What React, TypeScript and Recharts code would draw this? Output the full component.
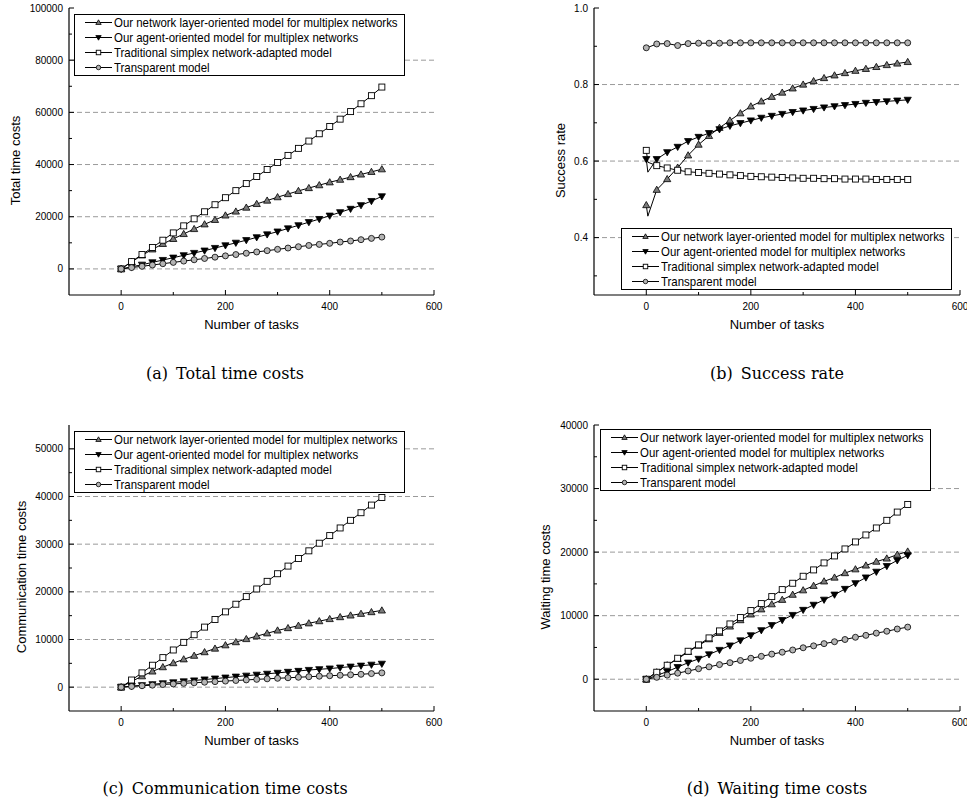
import { LineChart, Line, XAxis, YAxis, ReferenceLine } from 'recharts';

// x positions (number of tasks)
const tasks = [0, 20, 40, 60, 80, 100, 120, 140, 160, 180, 200, 220, 240, 260, 280, 300, 320, 340, 360, 380, 400, 420, 440, 460, 480, 500];
// success rate run also logs a sample just after start (no marker drawn there)
const successTasks = [0, 3, 20, 40, 60, 80, 100, 120, 140, 160, 180, 200, 220, 240, 260, 280, 300, 320, 340, 360, 380, 400, 420, 440, 460, 480, 500];
const unmarkedTasks = [3];

// (a) total time costs
const totalLayer = [0, 2700, 5200, 7500, 9600, 11500, 13400, 15300, 17100, 18800, 20500, 22000, 23500, 24900, 26200, 27500, 28700, 29900, 31000, 32100, 33200, 34200, 35200, 36200, 37200, 38200];
const totalAgent = [0, 800, 1600, 2500, 3400, 4300, 5200, 6100, 7000, 8000, 9000, 10000, 11000, 12100, 13200, 14300, 15500, 16700, 17900, 19100, 20400, 21700, 23000, 24400, 26000, 27800];
const totalSimplex = [0, 2800, 5500, 8200, 11000, 13800, 16500, 19200, 21900, 24600, 27300, 30000, 32700, 35400, 38100, 40800, 43500, 46200, 49000, 51800, 54600, 57400, 60300, 63300, 66400, 69700];
const totalTransparent = [0, 500, 1000, 1500, 2000, 2500, 3000, 3500, 4000, 4500, 5000, 5500, 6000, 6500, 7000, 7500, 8000, 8500, 9000, 9400, 9800, 10300, 10700, 11200, 11700, 12200];

// (b) success rate
const successLayer = [0.485, 0.456, 0.525, 0.553, 0.583, 0.615, 0.643, 0.666, 0.687, 0.706, 0.725, 0.743, 0.756, 0.768, 0.779, 0.790, 0.800, 0.809, 0.817, 0.824, 0.830, 0.836, 0.841, 0.846, 0.851, 0.855, 0.859];
const successAgent = [0.605, 0.571, 0.605, 0.623, 0.637, 0.652, 0.663, 0.673, 0.683, 0.692, 0.699, 0.706, 0.713, 0.718, 0.723, 0.728, 0.732, 0.736, 0.740, 0.743, 0.746, 0.749, 0.752, 0.754, 0.756, 0.758, 0.760];
const successSimplex = [0.628, 0.597, 0.588, 0.582, 0.576, 0.572, 0.570, 0.568, 0.566, 0.564, 0.562, 0.560, 0.559, 0.558, 0.557, 0.556, 0.555, 0.555, 0.554, 0.554, 0.553, 0.553, 0.553, 0.552, 0.552, 0.552, 0.552];
const successTransparent = [0.896, 0.897, 0.906, 0.907, 0.902, 0.907, 0.908, 0.908, 0.908, 0.909, 0.909, 0.909, 0.909, 0.909, 0.909, 0.909, 0.909, 0.909, 0.909, 0.909, 0.909, 0.909, 0.909, 0.909, 0.909, 0.909, 0.909];

// (c) communication time costs
const commLayer = [0, 1200, 2300, 3300, 4200, 5050, 5850, 6600, 7350, 8100, 8800, 9450, 10100, 10700, 11300, 11900, 12400, 12900, 13400, 13850, 14300, 14700, 15050, 15400, 15750, 16100];
const commAgent = [0, 200, 400, 600, 800, 1000, 1200, 1400, 1600, 1800, 2000, 2200, 2400, 2600, 2800, 3000, 3200, 3400, 3600, 3750, 3900, 4100, 4300, 4500, 4700, 4900];
const commSimplex = [0, 1500, 3000, 4600, 6200, 7800, 9400, 11000, 12600, 14200, 15800, 17400, 19000, 20600, 22200, 23800, 25400, 27000, 28600, 30200, 31800, 33400, 35000, 36600, 38200, 39800];
const commTransparent = [0, 150, 300, 420, 550, 680, 800, 920, 1040, 1160, 1280, 1400, 1520, 1640, 1750, 1860, 1970, 2080, 2190, 2300, 2400, 2500, 2600, 2700, 2850, 3000];

// (d) waiting time costs
const waitLayer = [0, 1100, 2200, 3200, 4300, 5300, 6300, 7300, 8300, 9300, 10200, 11000, 11800, 12500, 13300, 14000, 14700, 15400, 16000, 16700, 17300, 17900, 18500, 19000, 19600, 20100];
const waitAgent = [0, 600, 1200, 1900, 2600, 3200, 3900, 4600, 5300, 6100, 6900, 7700, 8500, 9300, 10100, 10900, 11700, 12500, 13300, 14200, 15100, 16000, 16900, 17800, 18700, 19500];
const waitSimplex = [0, 1100, 2200, 3300, 4400, 5400, 6500, 7600, 8700, 9700, 10800, 11900, 13000, 14100, 15100, 16200, 17200, 18300, 19400, 20500, 21600, 22700, 23800, 25000, 26300, 27500];
const waitTransparent = [0, 300, 650, 950, 1300, 1650, 1950, 2300, 2600, 2950, 3300, 3600, 3950, 4250, 4600, 4950, 5250, 5600, 5900, 6250, 6600, 6900, 7250, 7550, 7900, 8200];

const xTicks = [0, 100, 200, 300, 400, 500, 600];
const xMajor = [0, 200, 400, 600];

type Shape = 'up' | 'down' | 'square' | 'circle';

const SERIES: { key: string; name: string; shape: Shape }[] = [
  { key: 'layer', name: 'Our network layer-oriented model for multiplex networks', shape: 'up' },
  { key: 'agent', name: 'Our agent-oriented model for multiplex networks', shape: 'down' },
  { key: 'simplex', name: 'Traditional simplex network-adapted model', shape: 'square' },
  { key: 'transparent', name: 'Transparent model', shape: 'circle' },
];

const SANS = "'Liberation Sans', Arial, sans-serif";

function Marker({ shape, cx, cy, s = 1 }: { shape: Shape; cx: number; cy: number; s?: number }) {
  if (shape === 'up') {
    const pts = `${cx},${cy - 3.6 * s} ${cx + 3.6 * s},${cy + 2.6 * s} ${cx - 3.6 * s},${cy + 2.6 * s}`;
    return <polygon points={pts} fill="#7a7a7a" stroke="#000" strokeWidth={0.8} />;
  }
  if (shape === 'down') {
    const pts = `${cx - 3.6 * s},${cy - 2.6 * s} ${cx + 3.6 * s},${cy - 2.6 * s} ${cx},${cy + 3.6 * s}`;
    return <polygon points={pts} fill="#000" stroke="#000" strokeWidth={0.8} />;
  }
  if (shape === 'square') {
    return <rect x={cx - 3 * s} y={cy - 3 * s} width={6 * s} height={6 * s} fill="#fff" stroke="#000" strokeWidth={0.9} />;
  }
  return <circle cx={cx} cy={cy} r={3 * s} fill="#b4b4b4" stroke="#000" strokeWidth={0.8} />;
}

const isIn = (v: number, list: number[]) => list.some((m) => Math.abs(m - v) < 1e-9);

function LegendBox({ left, top }: { left: number; top: number }) {
  return (
    <div
      style={{
        position: 'absolute', left, top, width: 331, height: 62, boxSizing: 'border-box',
        border: '1px solid #000', background: '#fff', overflow: 'hidden',
        fontFamily: SANS, fontSize: 13, color: '#000',
      }}
    >
      {SERIES.map((s) => (
        <div key={s.key} style={{ display: 'flex', alignItems: 'center', height: 15, whiteSpace: 'nowrap' }}>
          <svg width={39} height={15} style={{ flex: 'none' }}>
            <line x1={10} x2={37} y1={7.5} y2={7.5} stroke="#000" strokeWidth={1} />
            <Marker shape={s.shape} cx={23.5} cy={7.5} s={0.75} />
          </svg>
          {/* reference legend uses a narrow sans face */}
          <span style={{ display: 'inline-block', lineHeight: '15px', transform: 'scaleX(0.88)', transformOrigin: 'left center' }}>
            {s.name}
          </span>
        </div>
      ))}
    </div>
  );
}

interface PanelProps {
  left: number;
  top: number;
  width: number;
  height: number;
  marginTop: number;
  marginRight: number;
  yAxisWidth: number;
  xAxisHeight: number;
  x: number[];
  values: number[][];
  yDomain: [number, number];
  yTicks: number[];
  yMajor: number[];
  grid: number[];
  digits: number;
  yLabel: string;
  yLabelX: number;
  legend: { left: number; top: number };
  caption: string;
  captionX: number;
  captionY: number;
}

function Panel(p: PanelProps) {
  const data = p.x.map((t, i) => ({
    task: t,
    layer: p.values[0][i],
    agent: p.values[1][i],
    simplex: p.values[2][i],
    transparent: p.values[3][i],
  }));
  const plotLeft = p.yAxisWidth;
  const plotRight = p.width - p.marginRight;
  const plotTop = p.marginTop;
  const plotBottom = p.height - p.xAxisHeight;

  const bottomTick = (t: any) => {
    const v = t.payload.value;
    const major = isIn(v, xMajor);
    return (
      <g>
        <line x1={t.x} x2={t.x} y1={t.y} y2={t.y - (major ? 5 : 3)} stroke="#000" />
        {major && (
          <text x={t.x} y={t.y + 15} textAnchor="middle" fontSize={10} fill="#000">{v}</text>
        )}
      </g>
    );
  };
  const topTick = (t: any) => {
    const major = isIn(t.payload.value, xMajor);
    return <line x1={t.x} x2={t.x} y1={t.y} y2={t.y + (major ? 5 : 3)} stroke="#000" />;
  };
  const leftTick = (t: any) => {
    const v = t.payload.value;
    const major = isIn(v, p.yMajor);
    return (
      <g>
        <line x1={t.x} x2={t.x + (major ? 5 : 3)} y1={t.y} y2={t.y} stroke="#000" />
        {major && (
          <text x={t.x - 6} y={t.y} dy="0.35em" textAnchor="end" fontSize={10} fill="#000">
            {p.digits ? v.toFixed(p.digits) : String(v)}
          </text>
        )}
      </g>
    );
  };
  const rightTick = (t: any) => {
    const major = isIn(t.payload.value, p.yMajor);
    return <line x1={t.x} x2={t.x - (major ? 5 : 3)} y1={t.y} y2={t.y} stroke="#000" />;
  };

  const renderDot = (shape: Shape) => (d: any) => {
    if (d.cx == null || isIn(d.payload.task, unmarkedTasks)) return <g key={d.index} />;
    return <Marker key={d.index} shape={shape} cx={d.cx} cy={d.cy} />;
  };

  return (
    <>
      <div style={{ position: 'absolute', left: p.left, top: p.top }}>
        <LineChart
          width={p.width}
          height={p.height}
          data={data}
          margin={{ top: p.marginTop, right: p.marginRight, left: 0, bottom: 0 }}
        >
          <XAxis
            dataKey="task"
            type="number"
            domain={[-100, 600]}
            ticks={xTicks}
            interval={0}
            allowDataOverflow
            height={p.xAxisHeight}
            tickSize={0}
            tickMargin={0}
            tickLine={false}
            axisLine={{ stroke: '#000', strokeWidth: 1.2 }}
            tick={bottomTick}
            label={() => (
              <text x={(plotLeft + plotRight) / 2} y={plotBottom + 34} textAnchor="middle" fontSize={13} fill="#000">
                Number of tasks
              </text>
            )}
          />
          <XAxis
            xAxisId="top"
            orientation="top"
            type="number"
            domain={[-100, 600]}
            ticks={xTicks}
            interval={0}
            allowDataOverflow
            height={0}
            tickSize={0}
            tickMargin={0}
            tickLine={false}
            axisLine={{ stroke: '#000', strokeWidth: 1.2 }}
            tick={topTick}
          />
          <YAxis
            type="number"
            domain={p.yDomain}
            ticks={p.yTicks}
            interval={0}
            allowDataOverflow
            width={p.yAxisWidth}
            tickSize={0}
            tickMargin={0}
            tickLine={false}
            axisLine={{ stroke: '#000', strokeWidth: 1.2 }}
            tick={leftTick}
            label={() => (
              <text
                transform={`translate(${p.yLabelX},${(plotTop + plotBottom) / 2 + 9}) rotate(-90)`}
                textAnchor="middle"
                dy="0.35em"
                fontSize={13}
                fill="#000"
              >
                {p.yLabel}
              </text>
            )}
          />
          <YAxis
            yAxisId="right"
            orientation="right"
            type="number"
            domain={p.yDomain}
            ticks={p.yTicks}
            interval={0}
            allowDataOverflow
            width={0}
            tickSize={0}
            tickMargin={0}
            tickLine={false}
            axisLine={{ stroke: '#000', strokeWidth: 1.2 }}
            tick={rightTick}
          />
          {p.grid.map((g) => (
            <ReferenceLine key={g} y={g} stroke="#9a9a9a" strokeDasharray="5 3" />
          ))}
          {SERIES.map((s) => (
            <Line
              key={s.key}
              type="linear"
              dataKey={s.key}
              stroke="#000"
              strokeWidth={1}
              dot={renderDot(s.shape)}
              activeDot={false}
              isAnimationActive={false}
            />
          ))}
        </LineChart>
      </div>
      <LegendBox left={p.legend.left} top={p.legend.top} />
      <div
        style={{
          position: 'absolute', left: p.captionX - 200, top: p.captionY - 10, width: 400,
          textAlign: 'center', fontFamily: "'DejaVu Serif', serif", fontSize: 16, lineHeight: '20px', color: '#000',
        }}
      >
        {p.caption}
      </div>
    </>
  );
}

export default function App() {
  return (
    <div style={{ position: 'absolute', left: 0, top: 0, width: 967, height: 804, background: '#fff', fontFamily: SANS, overflow: 'hidden' }}>
      <Panel
        left={0} top={0} width={450} height={345} marginTop={8} marginRight={16} yAxisWidth={69} xAxisHeight={50}
        x={tasks}
        values={[totalLayer, totalAgent, totalSimplex, totalTransparent]}
        yDomain={[-10000, 100000]}
        yTicks={[0, 10000, 20000, 30000, 40000, 50000, 60000, 70000, 80000, 90000, 100000]}
        yMajor={[0, 20000, 40000, 60000, 80000, 100000]}
        grid={[0, 20000, 40000, 60000, 80000]}
        digits={0}
        yLabel="Total time costs" yLabelX={15}
        legend={{ left: 74, top: 14 }}
        caption={'(a)\u2002Total time costs'} captionX={225} captionY={374}
      />
      <Panel
        left={484} top={0} width={483} height={345} marginTop={8} marginRight={7} yAxisWidth={110} xAxisHeight={50}
        x={successTasks}
        values={[successLayer, successAgent, successSimplex, successTransparent]}
        yDomain={[0.25, 1.0]}
        yTicks={[0.3, 0.4, 0.5, 0.6, 0.7, 0.8, 0.9, 1.0]}
        yMajor={[0.4, 0.6, 0.8, 1.0]}
        grid={[0.4, 0.6, 0.8]}
        digits={1}
        yLabel="Success rate" yLabelX={76}
        legend={{ left: 621, top: 228 }}
        caption={'(b)\u2002Success rate'} captionX={777} captionY={374}
      />
      <Panel
        left={0} top={400} width={450} height={360} marginTop={25} marginRight={16} yAxisWidth={69} xAxisHeight={49}
        x={tasks}
        values={[commLayer, commAgent, commSimplex, commTransparent]}
        yDomain={[-5000, 55000]}
        yTicks={[0, 5000, 10000, 15000, 20000, 25000, 30000, 35000, 40000, 45000, 50000]}
        yMajor={[0, 10000, 20000, 30000, 40000, 50000]}
        grid={[0, 10000, 20000, 30000, 40000, 50000]}
        digits={0}
        yLabel="Communication time costs" yLabelX={21}
        legend={{ left: 74, top: 431 }}
        caption={'(c)\u2002Communication time costs'} captionX={225} captionY={789}
      />
      <Panel
        left={484} top={400} width={483} height={360} marginTop={25} marginRight={7} yAxisWidth={110} xAxisHeight={49}
        x={tasks}
        values={[waitLayer, waitAgent, waitSimplex, waitTransparent]}
        yDomain={[-5000, 40000]}
        yTicks={[0, 5000, 10000, 15000, 20000, 25000, 30000, 35000, 40000]}
        yMajor={[0, 10000, 20000, 30000, 40000]}
        grid={[0, 10000, 20000, 30000]}
        digits={0}
        yLabel="Waiting time costs" yLabelX={61}
        legend={{ left: 600, top: 429 }}
        caption={'(d)\u2002Waiting time costs'} captionX={777} captionY={789}
      />
    </div>
  );
}
